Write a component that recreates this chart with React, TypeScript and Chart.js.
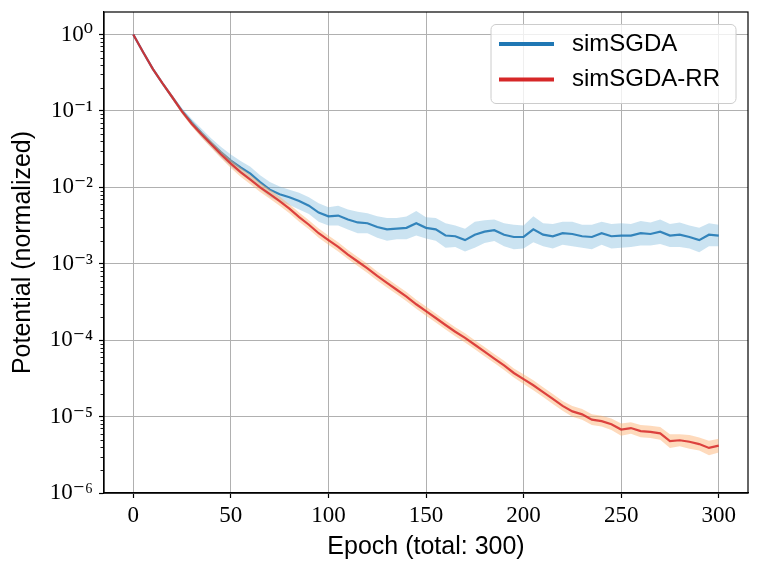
import { useEffect, useRef } from 'react';
import { Chart, registerables } from 'chart.js';

Chart.register(...registerables);

// epochs sampled every 5
const epochs = [
    0, 5, 10, 15, 20, 25, 30, 35, 40, 45, 50, 55, 60, 65, 70, 75, 80, 85, 90, 95,
    100, 105, 110, 115, 120, 125, 130, 135, 140, 145, 150, 155, 160, 165, 170, 175, 180, 185, 190, 195,
    200, 205, 210, 215, 220, 225, 230, 235, 240, 245, 250, 255, 260, 265, 270, 275, 280, 285, 290, 295, 300,
];

// mean potential (normalized)
const simSGDA = [
    1, 0.589, 0.355, 0.229, 0.151, 0.100, 0.0708, 0.0513, 0.0380, 0.0288,
    0.0224, 0.0182, 0.0151, 0.0117, 0.00933, 0.00813, 0.00741, 0.00661, 0.00575, 0.00468,
    0.00417, 0.00427, 0.00380, 0.00347, 0.00339, 0.00302, 0.00282, 0.00288, 0.00295, 0.00339,
    0.00295, 0.00282, 0.00234, 0.00229, 0.00204, 0.00240, 0.00263, 0.00275, 0.00240, 0.00224,
    0.00224, 0.00282, 0.00240, 0.00229, 0.00251, 0.00245, 0.00229, 0.00224, 0.00251, 0.00229,
    0.00234, 0.00234, 0.00251, 0.00245, 0.00263, 0.00234, 0.00240, 0.00224, 0.00204, 0.00240,
    0.00234,
];

const simSGDARR = [
    1, 0.589, 0.355, 0.229, 0.151, 0.0977, 0.0676, 0.0490, 0.0363, 0.0269,
    0.0204, 0.0158, 0.0126, 0.0100, 0.00813, 0.00661, 0.00525, 0.00407, 0.00324, 0.00251,
    0.00204, 0.00166, 0.00132, 0.00107, 8.71e-4, 6.92e-4, 5.62e-4, 4.57e-4, 3.72e-4, 2.95e-4,
    2.40e-4, 1.95e-4, 1.58e-4, 1.29e-4, 1.07e-4, 8.71e-5, 7.08e-5, 5.75e-5, 4.68e-5, 3.72e-5,
    3.09e-5, 2.57e-5, 2.09e-5, 1.70e-5, 1.38e-5, 1.17e-5, 1.07e-5, 9.12e-6, 8.71e-6, 7.94e-6,
    6.76e-6, 7.08e-6, 6.46e-6, 6.31e-6, 6.03e-6, 4.79e-6, 4.90e-6, 4.68e-6, 4.37e-6, 3.89e-6,
    4.17e-6,
];

// half-width of the shaded band, in decades
const simSGDASpread = [
    0.005, 0.01, 0.015, 0.02, 0.03, 0.035, 0.045, 0.055, 0.06, 0.07,
    0.08, 0.085, 0.09, 0.09, 0.1, 0.1, 0.1, 0.11, 0.11, 0.12,
    0.12, 0.13, 0.13, 0.14, 0.13, 0.14, 0.15, 0.14, 0.15, 0.16,
    0.14, 0.15, 0.16, 0.14, 0.15, 0.17, 0.15, 0.14, 0.15, 0.16,
    0.15, 0.17, 0.15, 0.16, 0.15, 0.16, 0.15, 0.16, 0.15, 0.16,
    0.16, 0.15, 0.16, 0.15, 0.16, 0.15, 0.16, 0.15, 0.16, 0.15,
    0.14,
];

const simSGDARRSpread = [
    0.005, 0.01, 0.015, 0.02, 0.025, 0.03, 0.035, 0.04, 0.045, 0.05,
    0.055, 0.06, 0.06, 0.06, 0.06, 0.06, 0.06, 0.06, 0.06, 0.06,
    0.06, 0.06, 0.06, 0.06, 0.06, 0.06, 0.06, 0.06, 0.06, 0.06,
    0.06, 0.06, 0.06, 0.06, 0.06, 0.06, 0.06, 0.06, 0.06, 0.06,
    0.065, 0.065, 0.065, 0.065, 0.065, 0.07, 0.07, 0.07, 0.07, 0.075,
    0.08, 0.075, 0.08, 0.08, 0.085, 0.09, 0.08, 0.09, 0.085, 0.095,
    0.09,
];

const seriesNames = ['simSGDA', 'simSGDA-RR'];
const xTicks = [0, 50, 100, 150, 200, 250, 300];
const yTickLabels = ['10⁻⁶', '10⁻⁵', '10⁻⁴', '10⁻³', '10⁻²', '10⁻¹', '10⁰'];

const BLUE = '#1f77b4';
const RED = '#d62728';
const SANS = '"Liberation Sans", Arial, sans-serif';
const SERIF = '"Liberation Serif", "DejaVu Serif", serif';

const isDecade = (v: number) => {
    const l = Math.log10(v);
    return Math.abs(l - Math.round(l)) < 1e-6;
};

// 1..9 x 10^k tick positions for the log axis
const yTickValues: number[] = [];
for (let k = -6; k < 0; k++) {
    for (let m = 1; m <= 9; m++) yTickValues.push(m * Math.pow(10, k));
}
yTickValues.push(1);

const pts = (vals: number[], spread?: number[], sign = 0) =>
    epochs.map((x, i) => ({ x, y: spread ? vals[i] * Math.pow(10, sign * spread[i]) : vals[i] }));

const framePlugin = {
    id: 'frame',
    afterDraw(chart: any) {
        const { ctx, chartArea: a } = chart;
        ctx.save();
        ctx.strokeStyle = '#000';
        ctx.lineWidth = 1.2;
        ctx.strokeRect(a.left, a.top, a.right - a.left, a.bottom - a.top);
        // shorter minor ticks
        const y = chart.scales.y;
        ctx.lineWidth = 0.9;
        y.ticks.forEach((t: any) => {
            if (isDecade(t.value)) return;
            const p = Math.round(y.getPixelForValue(t.value)) + 0.5;
            ctx.beginPath();
            ctx.moveTo(a.left - 3.5, p);
            ctx.lineTo(a.left, p);
            ctx.stroke();
        });
        ctx.restore();
    },
};

const legendPlugin = {
    id: 'cornerLegend',
    afterDraw(chart: any) {
        const { ctx, chartArea: a } = chart;
        const w = 245, h = 79;
        const x0 = a.right - 257, y0 = a.top + 12.5;
        ctx.save();
        ctx.beginPath();
        if (ctx.roundRect) ctx.roundRect(x0, y0, w, h, 5);
        else ctx.rect(x0, y0, w, h);
        ctx.fillStyle = 'rgba(255,255,255,0.8)';
        ctx.fill();
        ctx.strokeStyle = '#cccccc';
        ctx.lineWidth = 1;
        ctx.stroke();
        const colors = [BLUE, RED];
        seriesNames.forEach((name, i) => {
            const yy = y0 + 19.5 + i * 35.5;
            ctx.beginPath();
            ctx.moveTo(x0 + 8, yy);
            ctx.lineTo(x0 + 63, yy);
            ctx.strokeStyle = colors[i];
            ctx.lineWidth = 4;
            ctx.stroke();
            ctx.fillStyle = '#000';
            ctx.font = `24px ${SANS}`;
            ctx.textBaseline = 'middle';
            ctx.textAlign = 'left';
            ctx.fillText(name, x0 + 81, yy);
        });
        ctx.restore();
    },
};

export default function App() {
    const chartRef = useRef<HTMLCanvasElement>(null);
    const chartInstanceRef = useRef<Chart | null>(null);

    useEffect(() => {
        if (!chartRef.current) return;
        if (chartInstanceRef.current) chartInstanceRef.current.destroy();
        const ctx = chartRef.current.getContext('2d');
        if (!ctx) return;

        const band = (color: string, order: number, fill: any, data: any) => ({
            data,
            fill,
            backgroundColor: color,
            borderWidth: 0,
            pointRadius: 0,
            order,
        });

        chartInstanceRef.current = new Chart(ctx, {
            type: 'line',
            data: {
                datasets: [
                    band('rgba(107,174,214,0.35)', 3, '+1', pts(simSGDA, simSGDASpread, 1)),
                    band('rgba(107,174,214,0.35)', 3, false, pts(simSGDA, simSGDASpread, -1)),
                    {
                        label: seriesNames[0],
                        data: pts(simSGDA),
                        borderColor: 'rgba(31,119,180,0.88)',
                        borderWidth: 2.2,
                        pointRadius: 0,
                        fill: false,
                        order: 2,
                    },
                    band('rgba(253,174,107,0.45)', 1, '+1', pts(simSGDARR, simSGDARRSpread, 1)),
                    band('rgba(253,174,107,0.45)', 1, false, pts(simSGDARR, simSGDARRSpread, -1)),
                    {
                        label: seriesNames[1],
                        data: pts(simSGDARR),
                        borderColor: 'rgba(214,39,40,0.85)',
                        borderWidth: 2.2,
                        pointRadius: 0,
                        fill: false,
                        order: 0,
                    },
                ] as any,
            },
            options: {
                animation: false,
                responsive: true,
                maintainAspectRatio: false,
                layout: { padding: { top: 12, right: 14, left: 0, bottom: 0 } },
                plugins: {
                    legend: { display: false },
                    tooltip: { enabled: false },
                },
                scales: {
                    x: {
                        type: 'linear',
                        min: -15,
                        max: 315,
                        afterBuildTicks: (s: any) => {
                            s.ticks = xTicks.map((v) => ({ value: v }));
                        },
                        afterFit: (s: any) => {
                            s.height = 80;
                            s.paddingLeft = 0;
                            s.paddingRight = 0;
                        },
                        ticks: {
                            autoSkip: false,
                            maxRotation: 0,
                            padding: 4,
                            color: '#000',
                            font: { family: SERIF, size: 23 },
                        },
                        grid: {
                            color: '#b0b0b0',
                            lineWidth: 1,
                            tickLength: 5,
                            tickColor: '#000',
                            tickWidth: 1.2,
                        },
                        border: { color: '#000', width: 1.2 },
                        title: {
                            display: true,
                            text: 'Epoch (total: 300)',
                            color: '#000',
                            font: { family: SANS, size: 25 },
                            padding: { top: 0, bottom: 11 },
                        },
                    },
                    y: {
                        type: 'logarithmic',
                        min: 1e-6,
                        max: 1.97,
                        afterBuildTicks: (s: any) => {
                            s.ticks = yTickValues.map((v) => ({ value: v, major: isDecade(v) }));
                        },
                        afterFit: (s: any) => {
                            s.width = 104;
                            s.paddingTop = 0;
                            s.paddingBottom = 0;
                        },
                        ticks: {
                            autoSkip: false,
                            padding: 6,
                            color: '#000',
                            font: { family: SERIF, size: 23 },
                            callback: (v: any) => {
                                const n = Number(v);
                                if (!isDecade(n)) return '';
                                return yTickLabels[Math.round(Math.log10(n)) + 6];
                            },
                        },
                        grid: {
                            color: (c: any) => (c.tick && isDecade(c.tick.value) ? '#b0b0b0' : 'rgba(0,0,0,0)'),
                            tickColor: (c: any) => (c.tick && isDecade(c.tick.value) ? '#000' : 'rgba(0,0,0,0)'),
                            lineWidth: 1,
                            tickLength: 5,
                            tickWidth: 1.2,
                        },
                        border: { color: '#000', width: 1.2 },
                        title: {
                            display: true,
                            text: 'Potential (normalized)',
                            color: '#000',
                            font: { family: SANS, size: 25 },
                            padding: { top: 8, bottom: 0 },
                        },
                    },
                },
            },
            plugins: [framePlugin, legendPlugin],
        });

        return () => {
            if (chartInstanceRef.current) {
                chartInstanceRef.current.destroy();
                chartInstanceRef.current = null;
            }
        };
    }, []);

    return (
        <div style={{ position: 'absolute', left: 0, top: 0, width: 762, height: 573, background: '#fff' }}>
            <canvas ref={chartRef}></canvas>
        </div>
    );
}
